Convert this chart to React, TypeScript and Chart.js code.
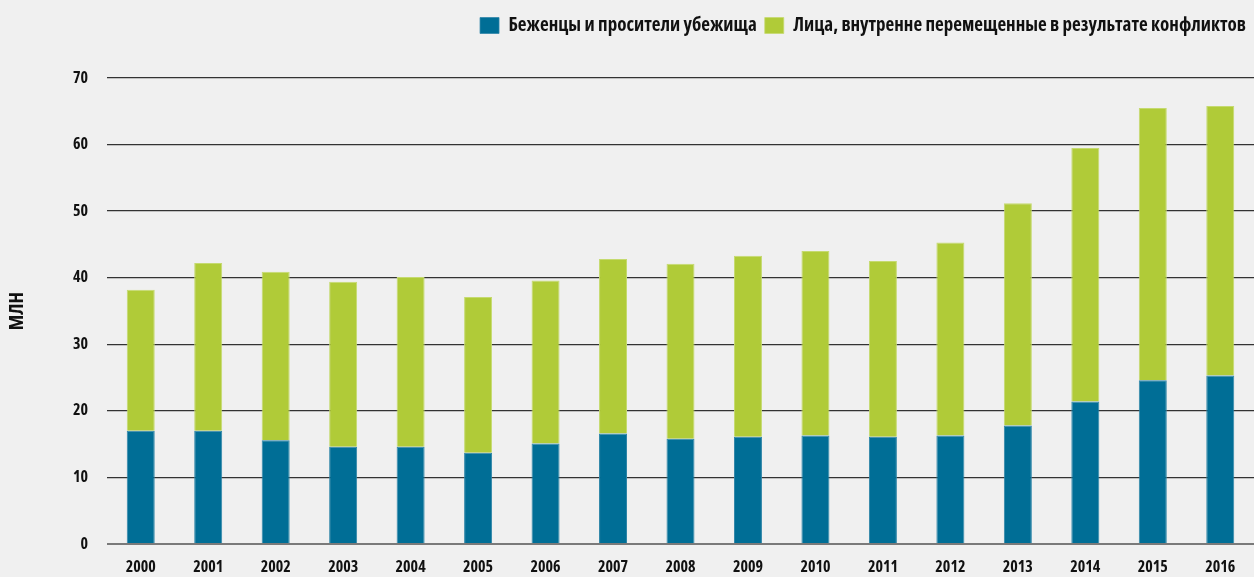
import React, { useEffect, useRef } from "react";
import { Chart, registerables } from "chart.js";

Chart.register(...registerables);

const years = ["2000","2001","2002","2003","2004","2005","2006","2007","2008","2009","2010","2011","2012","2013","2014","2015","2016"];
const refugees = [17.0, 17.0, 15.6, 14.6, 14.6, 13.7, 15.1, 16.6, 15.8, 16.1, 16.3, 16.1, 16.3, 17.8, 21.4, 24.6, 25.3];
const idps = [21.2, 25.2, 25.3, 24.8, 25.5, 23.4, 24.5, 26.2, 26.3, 27.2, 27.7, 26.4, 29.0, 33.4, 38.1, 40.9, 40.5];
const seriesNames = ["Беженцы и просители убежища", "Лица, внутренне перемещенные в результате конфликтов"];
const yTicks = [0, 10, 20, 30, 40, 50, 60, 70];
const yTitle = "МЛН";

const OPEN = "'Open Sans', sans-serif";
const W = "bold condensed" as any;

export default function App() {
  const ref = useRef<HTMLCanvasElement | null>(null);
  useEffect(() => {
    document.body.style.margin = "0";
    document.body.style.background = "#f0f0f0";
    if (!ref.current) return;
    const chart = new Chart(ref.current, {
      type: "bar",
      data: {
        labels: years,
        datasets: [
          {
            label: seriesNames[0],
            data: refugees,
            backgroundColor: "#006e96",
            borderColor: "#2f86a8",
            borderWidth: { left: 1, right: 1, top: 1, bottom: 0 },
            borderSkipped: false,
            barPercentage: 0.415,
            categoryPercentage: 1,
          },
          {
            label: seriesNames[1],
            data: idps,
            backgroundColor: "#b0cb38",
            borderColor: "#c5da6f",
            borderWidth: { left: 1, right: 1, top: 1, bottom: 0 },
            borderSkipped: false,
            barPercentage: 0.415,
            categoryPercentage: 1,
          },
        ],
      },
      options: {
        responsive: true,
        maintainAspectRatio: false,
        animation: false,
        layout: { padding: { top: 8, right: 0, bottom: 0, left: 0 } },
        plugins: {
          tooltip: { enabled: false },
          legend: {
            position: "top",
            align: "end",
            labels: {
              boxWidth: 19,
              boxHeight: 16,
              padding: 8,
              color: "#111",
              font: { family: OPEN, size: 19, weight: W },
            },
          },
          subtitle: {
            display: true,
            text: " ",
            weight: 500,
            font: { size: 10, lineHeight: 1 },
            padding: { top: 23, bottom: 0 },
          } as any,
        },
        scales: {
          x: {
            stacked: true,
            grid: { display: false, drawTicks: false },
            border: { display: false },
            ticks: {
              color: "#111",
              padding: 14,
              font: { family: OPEN, size: 16, weight: W },
            },
            afterFit: (s: any) => { s.height = 33; },
          },
          y: {
            stacked: true,
            min: 0,
            max: 70,
            afterBuildTicks: (s: any) => { s.ticks = yTicks.map((v) => ({ value: v })); },
            grid: {
              drawTicks: false,
              color: (c: any) => (c.tick && c.tick.value === 0 ? "#7a7a7a" : "#333"),
              lineWidth: (c: any) => (c.tick && c.tick.value === 0 ? 2 : 1.3),
            },
            border: { display: false },
            ticks: {
              color: "#111",
              padding: 19,
              font: { family: OPEN, size: 16, weight: W },
            },
            title: {
              display: true,
              text: yTitle,
              color: "#111",
              padding: { top: 5, bottom: 0 },
              font: { family: OPEN, size: 20, weight: W },
            },
            afterFit: (s: any) => { s.width = 107; },
          },
        },
      },
    });
    return () => chart.destroy();
  }, []);
  return (
    <div style={{ width: 1254, height: 577, position: "relative", background: "#f0f0f0" }}>
      <canvas ref={ref} />
    </div>
  );
}
